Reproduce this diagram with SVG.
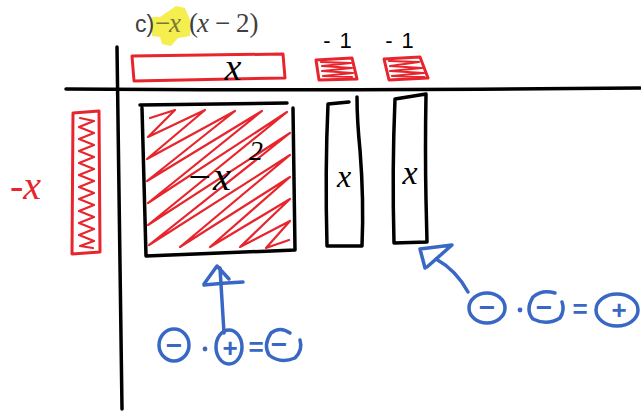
<svg xmlns="http://www.w3.org/2000/svg" width="641" height="412" viewBox="0 0 641 412">
<style>
.ink{fill:none;stroke-linecap:round;stroke-linejoin:round}
.blk{stroke:#000;stroke-width:3.5}
.red{stroke:#e8242c;stroke-width:3}
.redf{stroke:#e8242c;stroke-width:2.2}
.blu{stroke:#3867c4;stroke-width:3.5}
.hand{font-family:"Liberation Serif","DejaVu Serif",serif;font-style:italic}
.bt{font-family:"Liberation Sans","DejaVu Sans",sans-serif;fill:#3867c4;text-anchor:middle;font-weight:bold}
</style>
<rect width="641" height="412" fill="#fff"/>

<g id="title">
<path d="M152 20 Q150 16 160 17 L176 6 L185 8 L190 20 L190 36 L178 38 L171 46 L162 44 L160 37 L152 36 Z" fill="#f4ee4f"/>
<text y="32" font-size="27" fill="#404040">
<tspan x="135" font-family="Liberation Sans,DejaVu Sans,sans-serif" font-size="23">c)</tspan>
<tspan x="155" font-family="Liberation Serif,serif" fill="#7a7838">−</tspan><tspan x="169" class="hand" fill="#7a7838">x</tspan><tspan x="189" font-family="Liberation Serif,serif">(</tspan><tspan x="197" class="hand">x</tspan><tspan x="215" font-family="Liberation Serif,serif">−</tspan><tspan x="236" font-family="Liberation Serif,serif">2)</tspan>
</text>
</g>

<g id="axes">
<path class="ink blk" d="M66 89 Q300 91 640 88"/>
<path class="ink blk" d="M117 47 Q119 230 122 409"/>
</g>

<g id="top-x-tile">
<path class="ink red" d="M132 56 L283 54 L285 78 L134 81 Z"/>
<text x="233" y="80" font-size="38" class="hand" text-anchor="middle">x</text>
</g>

<g id="top-unit-1">
<path class="ink red" d="M316 60 L352 58 L357 79 L319 80 Z"/>
<path class="ink redf" d="M321 62 L351 63 L322 66 L352 68 L322 71 L353 73 L323 76 L352 77"/>
<text x="342" y="48" font-size="22" font-family="Liberation Sans,sans-serif" text-anchor="middle" letter-spacing="9">-1</text>
</g>

<g id="top-unit-2">
<path class="ink red" d="M384 59 L420 57 L428 78 L389 80 Z"/>
<path class="ink redf" d="M389 61 L419 62 L390 66 L422 68 L390 71 L424 73 L392 76 L424 77"/>
<text x="404" y="48" font-size="22" font-family="Liberation Sans,sans-serif" text-anchor="middle" letter-spacing="9">-1</text>
</g>

<g id="left-x-tile">
<path class="ink red" d="M73 113 L99 111 L100 252 L72 254 Z"/>
<path class="ink redf" d="M80 118 L94 121 L79 127 L94 133 L79 139 L94 145 L79 151 L94 157 L79 163 L94 169 L79 175 L94 181 L79 187 L94 193 L79 199 L94 205 L79 211 L94 217 L79 223 L94 229 L79 235 L94 241 L80 246 L93 248"/>
<text x="10" y="199" font-size="40" class="hand" fill="#e8242c">-x</text>
</g>

<g id="square-tile">
<path d="M150 118 L175 110 L148 137 L205 110 L147 159 L235 111 L147 181 L262 111 L148 203 L287 112 L148 225 L290 133 L149 245 L290 155 L180 247 L290 177 L210 247 L290 199 L240 247 L290 221 L266 248 L289 240" class="ink redf"/>
<path class="ink blk" d="M140 105 L287 103 M293 108 L295 250 L146 256 L142 108"/>
<text x="186" y="190" font-size="40" class="hand">−x</text>
<text x="249" y="160" font-size="28" class="hand">2</text>
</g>

<g id="x-tile-1">
<path class="ink blk" d="M349 102 L328 104 Q325 170 327 246 L362 246 Q364 200 360 150 Q357 120 357 97"/>
<text x="344" y="187" font-size="32" class="hand" text-anchor="middle">x</text>
</g>

<g id="x-tile-2">
<path class="ink blk" d="M395 99 L426 94 Q425 150 426 200 L427 242 L394 243 Q392 170 395 99"/>
<text x="410" y="184" font-size="34" class="hand" text-anchor="middle">x</text>
</g>

<g id="connectors">
<path class="ink blu" d="M224 333 L220 268"/>
<path class="ink blu" d="M204 284 L217 266 L229 279 M204 285 Q222 283 243 282"/>
<path class="ink blu" d="M468 292 Q456 270 436 259"/>
<path class="ink blu" d="M425 268 L420 249 L452 245 L427 267"/>
</g>

<g id="rule-1">
<ellipse class="ink blu" cx="174" cy="345" rx="15" ry="16"/>
<text class="bt" x="174" y="355" font-size="28">−</text>
<circle cx="205" cy="349" r="2.4" fill="#3867c4"/>
<ellipse class="ink blu" cx="229" cy="347" rx="13" ry="17"/>
<text class="bt" x="230" y="357" font-size="26">+</text>
<text class="bt" x="256" y="356" font-size="26">=</text>
<path class="ink blu" d="M290 333 Q280 326 271 333 Q263 345 269 355 Q280 364 295 358 Q303 350 300 340"/>
<text class="bt" x="279" y="354" font-size="28">−</text>
</g>

<g id="rule-2">
<ellipse class="ink blu" cx="487" cy="308" rx="18" ry="15"/>
<text class="bt" x="487" y="317" font-size="28">−</text>
<circle cx="520" cy="310" r="2.4" fill="#3867c4"/>
<path class="ink blu" d="M555 293 Q542 289 533 297 Q525 310 533 319 Q547 326 560 318 Q565 310 562 302"/>
<text class="bt" x="544" y="317" font-size="28">−</text>
<text class="bt" x="580" y="318" font-size="26">=</text>
<ellipse class="ink blu" cx="617" cy="310" rx="21" ry="16"/>
<text class="bt" x="619" y="319" font-size="26">+</text>
</g>
</svg>
